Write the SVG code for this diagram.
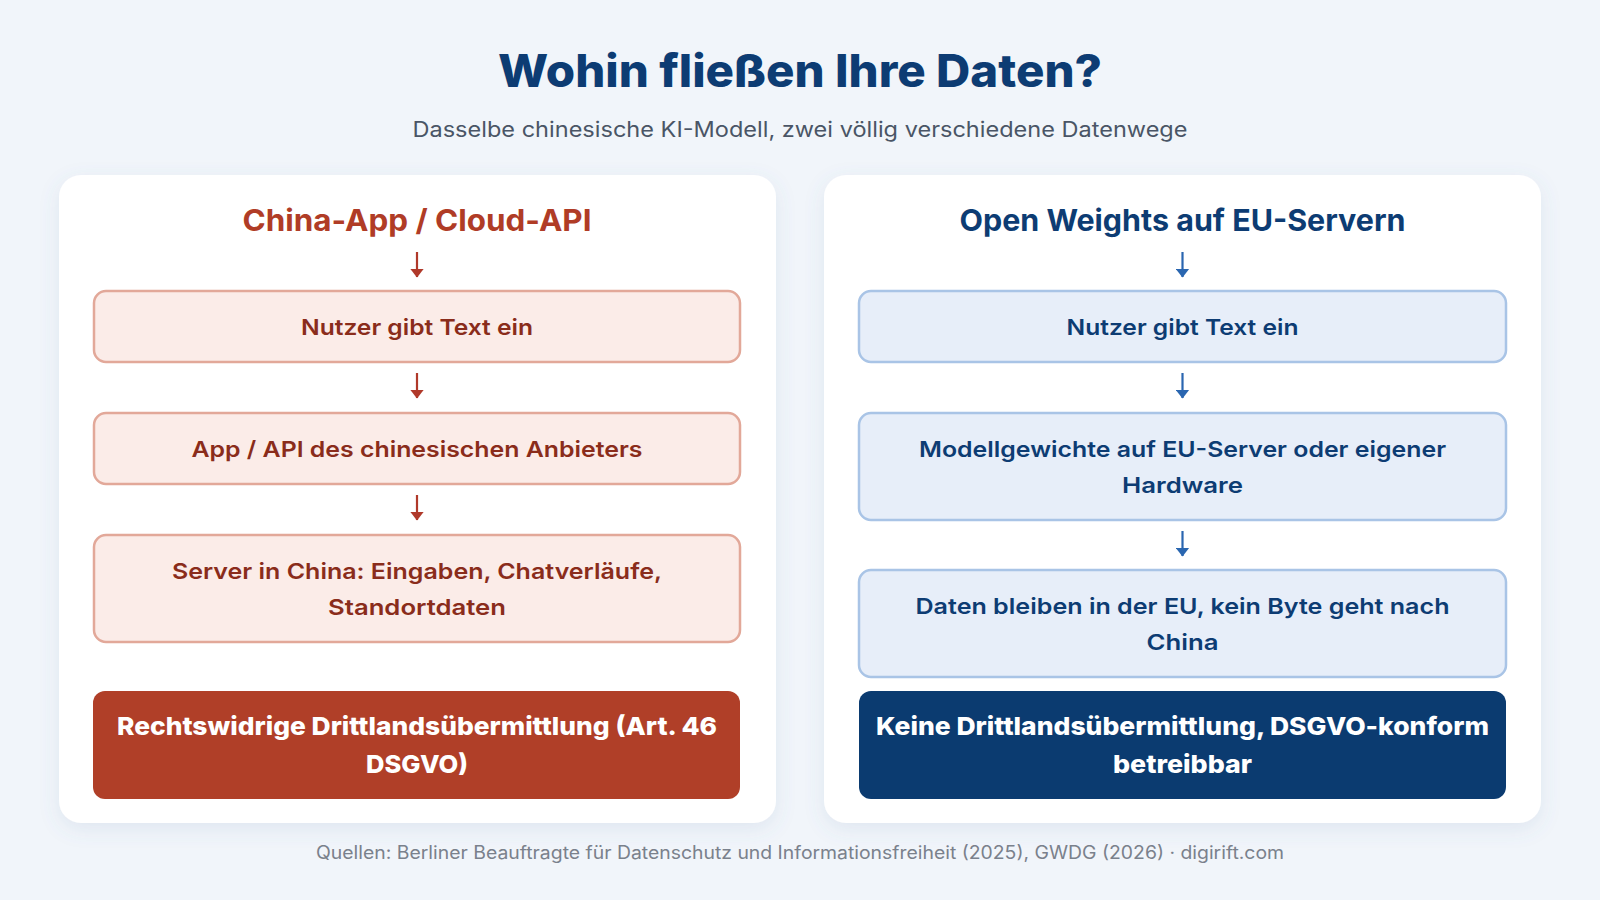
<svg xmlns="http://www.w3.org/2000/svg" width="1600" height="900" viewBox="0 0 1600 900">
  <defs>
    <filter id="shadow" x="-10%" y="-10%" width="120%" height="125%">
      <feDropShadow dx="0" dy="6" stdDeviation="10" flood-color="#5a7aa8" flood-opacity="0.12"/>
    </filter>
    <marker id="headRed" viewBox="0 0 9 14" refX="8.5" refY="7" markerWidth="9" markerHeight="14" markerUnits="userSpaceOnUse" orient="auto">
      <path d="M0,0 L9,7 L0,14 Z" fill="#b0392a"/>
    </marker>
    <marker id="headBlue" viewBox="0 0 9 14" refX="8.5" refY="7" markerWidth="9" markerHeight="14" markerUnits="userSpaceOnUse" orient="auto">
      <path d="M0,0 L9,7 L0,14 Z" fill="#2a66b0"/>
    </marker>
    <style>
      text { font-family: "Inter", "Noto Sans", "Liberation Sans", sans-serif; text-anchor: middle; }
      .title { font-size: 45px; font-weight: 800; fill: #0d3c73; }
      .subtitle { font-size: 21px; font-weight: 400; fill: #4a5566; }
      .panel { fill: #ffffff; }
      .headL { font-size: 30px; font-weight: 700; fill: #b03c26; }
      .headR { font-size: 30px; font-weight: 700; fill: #0d3c73; }
      .boxL { fill: #fbece8; stroke: #e2a899; stroke-width: 2.5; }
      .boxR { fill: #e7eef9; stroke: #a9c4e6; stroke-width: 2.5; }
      .txtL { font-size: 22px; font-weight: 600; fill: #8a2c1b; }
      .txtR { font-size: 22px; font-weight: 600; fill: #0d3c73; }
      .resL { fill: #b03f28; }
      .resR { fill: #0b3b70; }
      .resTxt { font-size: 25px; font-weight: 800; fill: #ffffff; }
      .arrL { stroke: #b0392a; stroke-width: 2.2; fill: none; marker-end: url(#headRed); }
      .arrR { stroke: #2a66b0; stroke-width: 2.2; fill: none; marker-end: url(#headBlue); }
      .footer { font-size: 18px; font-weight: 400; fill: #7a818c; }
    </style>
  </defs>

  <rect x="0" y="0" width="1600" height="900" fill="#f1f5fa"/>

  <g id="header">
    <text class="title" x="800" y="87" textLength="604" lengthAdjust="spacingAndGlyphs">Wohin fließen Ihre Daten?</text>
    <text class="subtitle" x="800" y="137" textLength="775" lengthAdjust="spacingAndGlyphs">Dasselbe chinesische KI-Modell, zwei völlig verschiedene Datenwege</text>
  </g>

  <g id="panel-left">
    <rect class="panel" x="59" y="175" width="717" height="648" rx="22" filter="url(#shadow)"/>
    <text class="headL" x="417" y="231" textLength="349" lengthAdjust="spacingAndGlyphs">China-App / Cloud-API</text>
  </g>
  <g id="panel-right">
    <rect class="panel" x="824" y="175" width="717" height="648" rx="22" filter="url(#shadow)"/>
    <text class="headR" x="1182.5" y="231" textLength="446" lengthAdjust="spacingAndGlyphs">Open Weights auf EU-Servern</text>
  </g>

  <g id="connectors">
    <line class="arrL" x1="417" y1="252" x2="417" y2="277"/>
    <line class="arrL" x1="417" y1="373" x2="417" y2="398"/>
    <line class="arrL" x1="417" y1="495" x2="417" y2="520"/>
    <line class="arrR" x1="1182.5" y1="252" x2="1182.5" y2="277"/>
    <line class="arrR" x1="1182.5" y1="373" x2="1182.5" y2="398"/>
    <line class="arrR" x1="1182.5" y1="531" x2="1182.5" y2="556"/>
  </g>

  <g id="left-user">
    <rect class="boxL" x="94" y="291" width="646" height="71" rx="12"/>
    <text class="txtL" x="417" y="335" textLength="232" lengthAdjust="spacingAndGlyphs">Nutzer gibt Text ein</text>
  </g>
  <g id="left-app">
    <rect class="boxL" x="94" y="413" width="646" height="71" rx="12"/>
    <text class="txtL" x="417" y="457" textLength="451" lengthAdjust="spacingAndGlyphs">App / API des chinesischen Anbieters</text>
  </g>
  <g id="left-server">
    <rect class="boxL" x="94" y="535" width="646" height="107" rx="12"/>
    <text class="txtL" x="417" y="579" textLength="490" lengthAdjust="spacingAndGlyphs">Server in China: Eingaben, Chatverläufe,</text>
    <text class="txtL" x="417" y="615" textLength="178" lengthAdjust="spacingAndGlyphs">Standortdaten</text>
  </g>
  <g id="left-result">
    <rect class="resL" x="93" y="691" width="647" height="108" rx="12"/>
    <text class="resTxt" x="417" y="735" textLength="600" lengthAdjust="spacingAndGlyphs">Rechtswidrige Drittlandsübermittlung (Art. 46</text>
    <text class="resTxt" x="417" y="773" textLength="102" lengthAdjust="spacingAndGlyphs">DSGVO)</text>
  </g>

  <g id="right-user">
    <rect class="boxR" x="859" y="291" width="647" height="71" rx="12"/>
    <text class="txtR" x="1182.5" y="335" textLength="232" lengthAdjust="spacingAndGlyphs">Nutzer gibt Text ein</text>
  </g>
  <g id="right-model">
    <rect class="boxR" x="859" y="413" width="647" height="107" rx="12"/>
    <text class="txtR" x="1182.5" y="457" textLength="527" lengthAdjust="spacingAndGlyphs">Modellgewichte auf EU-Server oder eigener</text>
    <text class="txtR" x="1182.5" y="493" textLength="121" lengthAdjust="spacingAndGlyphs">Hardware</text>
  </g>
  <g id="right-data">
    <rect class="boxR" x="859" y="570" width="647" height="107" rx="12"/>
    <text class="txtR" x="1182.5" y="614" textLength="534" lengthAdjust="spacingAndGlyphs">Daten bleiben in der EU, kein Byte geht nach</text>
    <text class="txtR" x="1182.5" y="650" textLength="72" lengthAdjust="spacingAndGlyphs">China</text>
  </g>
  <g id="right-result">
    <rect class="resR" x="859" y="691" width="647" height="108" rx="12"/>
    <text class="resTxt" x="1182.5" y="735" textLength="613" lengthAdjust="spacingAndGlyphs">Keine Drittlandsübermittlung, DSGVO-konform</text>
    <text class="resTxt" x="1182.5" y="773" textLength="139" lengthAdjust="spacingAndGlyphs">betreibbar</text>
  </g>

  <g id="footer">
    <text class="footer" x="800" y="859" textLength="968" lengthAdjust="spacingAndGlyphs">Quellen: Berliner Beauftragte für Datenschutz und Informationsfreiheit (2025), GWDG (2026) · digirift.com</text>
  </g>
</svg>
